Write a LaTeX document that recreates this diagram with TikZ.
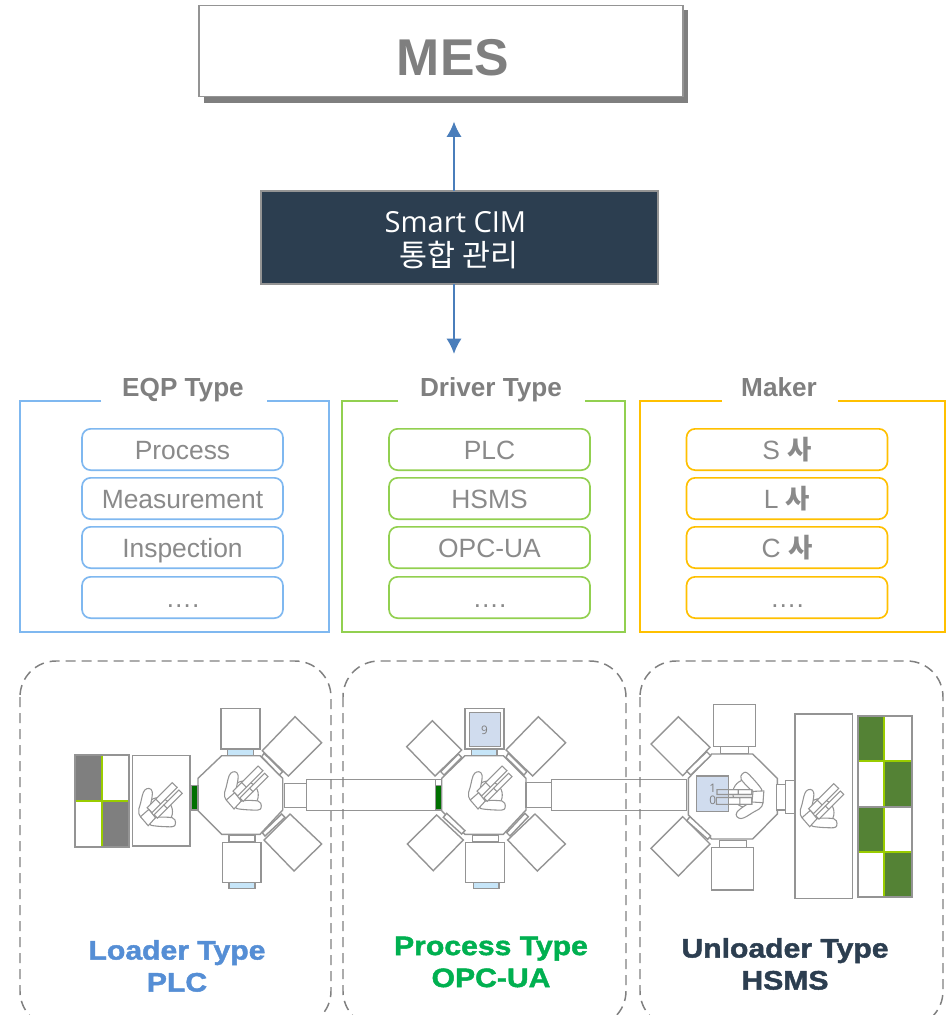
\documentclass[tikz,border=0pt]{standalone}
\usepackage{fontspec}
\setmainfont{Liberation Sans}
\newfontfamily\krfont{Noto Sans CJK KR}
\newfontfamily\uifont{Open Sans}
\newfontfamily\widefont[BoldFeatures={FakeStretch=1.13,FakeBold=1.7}]{Liberation Sans}
\definecolor{txtgray}{HTML}{8A8A8A}
\definecolor{titlegray}{HTML}{7F7F7F}
\definecolor{linegray}{HTML}{949494}
\definecolor{dashgray}{HTML}{808080}
\definecolor{boxblue}{HTML}{7FB8F0}
\definecolor{boxgreen}{HTML}{92D050}
\definecolor{boxyellow}{HTML}{FFC000}
\definecolor{navy}{HTML}{2C3E50}
\definecolor{arrowblue}{HTML}{4A7EBB}
\definecolor{labelblue}{HTML}{558ED5}
\definecolor{waferblue}{HTML}{D0DCEE}
\definecolor{doorblue}{HTML}{C6E5F8}
\definecolor{doorgreen}{HTML}{007000}
\definecolor{lime}{HTML}{99CC00}
\definecolor{cellgreen}{HTML}{548235}
\definecolor{cellgray}{HTML}{7F7F7F}
\definecolor{procgreen}{HTML}{00B050}
\usetikzlibrary{arrows.meta}
\tikzset{
  eq/.style={draw=linegray,fill=white,line width=1.05pt},
  door/.style={draw=linegray,fill=doorblue,line width=1.05pt},
  item/.style={rounded corners=6.5pt,line width=1.25pt,minimum width=150.75pt,minimum height=31pt,inner sep=0pt,text=txtgray,text height=15pt,text depth=0pt,font=\fontsize{19.8pt}{22pt}\selectfont},
  grouptitle/.style={anchor=base,font=\fontsize{19.6pt}{22pt}\selectfont\bfseries,text=titlegray,inner sep=0pt},
  grp/.style={line width=1.25pt},
  zone/.style={draw=dashgray,dash pattern=on 7.5pt off 4.5pt,line width=1.1pt,rounded corners=27pt},
  typelabel/.style={align=center,inner sep=0pt,font=\widefont\bfseries\fontsize{20pt}{24pt}\selectfont},
  flow/.style={draw=arrowblue,line width=1.7pt,-{Latex[length=11.5pt,width=11.5pt]}},
  digit/.style={text=cellgray,inner sep=0pt,font=\uifont\fontsize{8.8pt}{10pt}\selectfont}
}
\newcommand{\armsat}[3]{%
\begin{scope}[shift={(#1,#2)},rotate=#3,draw=linegray,line width=.8pt]
  \draw (-11.3,-4) -- (13.7,-29) -- (18.7,-24.3) -- (-6.5,.9) -- cycle;
  \draw (-4.4,3) -- (20.3,-21.7) -- (23.7,-18.3) -- (-1,6.4) -- cycle;
\end{scope}}
\newcommand{\robotat}[3]{%
\begin{scope}[shift={(#1,#2)},rotate=#3,draw=linegray,line width=.8pt]
  \draw (0,0) circle[radius=14];
  \draw[fill=white] plot[smooth cycle,tension=.7] coordinates {(-13.7,-21.7) (-6.3,-20) (-9.7,0) (-13,8.3) (-19.7,1.7) (-18,-8.3)};
  \draw[fill=white] plot[smooth cycle,tension=.5] coordinates {(-8,13.3) (13.7,15) (17,10.7) (13.7,6) (-3,6)};
  \draw[fill=white] (-11.3,-4) -- (13.7,-29) -- (18.7,-24.3) -- (-6.5,.9) -- cycle;
  \draw[fill=white] (-4.4,3) -- (20.3,-21.7) -- (23.7,-18.3) -- (-1,6.4) -- cycle;
  \draw (-2.8,-12.5) -- (2,-7.8) (5,-7) -- (9,-3);
  \draw[fill=white] (-18,5) -- (-9.7,-2.3) -- (-3,6) -- (-10.3,14) -- cycle;
\end{scope}}
\begin{document}
\begin{tikzpicture}[x=.75pt,y=-.75pt]
\clip (0,0) rectangle (948,1015);
\fill[white] (0,0) rectangle (948,1015);

% MES
\fill[cellgray] (204,10) rectangle (687.5,102.5);
\node[draw=linegray,fill=white,line width=1.3pt,minimum width=363pt,minimum height=68.25pt,inner sep=0pt] (mes) at (441,51) {};
\node[anchor=base,text=cellgray,font=\fontsize{38.8pt}{40pt}\selectfont\bfseries,inner sep=0pt] (mestext) at (453,75) {MES};

% CIM
\node[draw=linegray,fill=navy,line width=1pt,minimum width=297.75pt,minimum height=69.75pt,inner sep=0pt] (cim) at (459.5,237.5) {};
\node[anchor=base,text=white,inner sep=0pt,font=\uifont\fontsize{21.8pt}{25pt}\selectfont] (cimtext1) at (455.5,232) {Smart CIM};
\node[anchor=base,text=white,inner sep=0pt,font=\krfont\fontsize{22.8pt}{25pt}\selectfont] (cimtext2) at (459,266) {통합 관리};
\coordinate (upend) at (454,121.5);
\coordinate (downend) at (454,354);
\coordinate (cimtop) at (454,191);
\coordinate (cimbot) at (454,284);
\draw[flow] (cimtop) -- (upend);
\draw[flow] (cimbot) -- (downend);

% groups
\draw[grp,boxblue] (101,401) -- (20,401) -- (20,632) -- (329,632) -- (329,401) -- (267,401);
\draw[grp,boxgreen] (398,401) -- (342,401) -- (342,632) -- (625,632) -- (625,401) -- (585,401);
\draw[grp,boxyellow] (722,401) -- (640,401) -- (640,632) -- (945,632) -- (945,401) -- (838,401);
\node[grouptitle] (t1) at (183,396) {EQP Type};
\node[grouptitle] (t2) at (491,396) {Driver Type};
\node[grouptitle] (t3) at (779,396) {Maker};

\node[item,draw=boxblue] (a1) at (182.5,449.5) {Process};
\node[item,draw=boxblue] (a2) at (182.5,498.5) {Measurement};
\node[item,draw=boxblue] (a3) at (182.5,547.5) {Inspection};
\node[item,draw=boxblue] (a4) at (182.5,597.5) {….};
\node[item,draw=boxgreen] (b1) at (489.5,449.5) {PLC};
\node[item,draw=boxgreen] (b2) at (489.5,498.5) {HSMS};
\node[item,draw=boxgreen] (b3) at (489.5,547.5) {OPC-UA};
\node[item,draw=boxgreen] (b4) at (489.5,597.5) {….};
\node[item,draw=boxyellow] (c1) at (787,449.5) {S {\krfont\bfseries 사}};
\node[item,draw=boxyellow] (c2) at (787,498.5) {L {\krfont\bfseries 사}};
\node[item,draw=boxyellow] (c3) at (787,547.5) {C {\krfont\bfseries 사}};
\node[item,draw=boxyellow] (c4) at (787,597.5) {….};

% transfer modules
\draw[eq] (306.7,779.3) rectangle (435.7,810.3);
\draw[eq] (551.3,779.3) rectangle (686.7,810.3);

% Loader
\fill[cellgray] (75,755) rectangle (102.3,800.7);
\fill[cellgray] (102.3,800.7) rectangle (129.3,846.7);
\draw[lime,line width=1.6pt] (102.3,755) -- (102.3,846.7) (75,800.7) -- (129.3,800.7);
\draw[linegray,line width=1.5pt] (75,755) rectangle (129.3,846.7);
\draw[eq] (132.7,755.7) rectangle (190,846);
\draw[eq] (221.7,755.7) -- (260,755.7) -- (282.7,778.3) -- (282.7,810) -- (260,834.3) -- (221.7,834.3) -- (198,810.7) -- (198,778.3) -- cycle;
\draw[draw=linegray,fill=doorgreen,line width=1pt] (191.7,785.7) rectangle (198,810);
\draw[eq] (221,708.3) rectangle (260,749);
\draw[door] (227.3,749) rectangle (253.3,755.7);
\draw[eq] (295,716.7) -- (321.7,742.7) -- (288.3,776) -- (262.3,750.7) -- cycle;
\draw[eq] (264,753.3) -- (282.7,771.7) -- (279.3,775) -- (261.7,756.7) -- cycle;
\draw[eq] (290,814) -- (321.7,844) -- (294,871) -- (264,840) -- cycle;
\draw[eq] (281.7,814) -- (285,817.3) -- (265,836) -- (262.3,832.7) -- cycle;
\draw[eq] (229,835) rectangle (255,841.7);
\draw[eq] (222.3,842.3) rectangle (261,882.3);
\draw[door] (229,882.3) rectangle (255,888.3);
\draw[eq] (284.3,783.3) rectangle (306.7,807.3);
\robotat{158.5}{811.7}{0}
\robotat{244.3}{795}{0}

% Process
\draw[eq] (465,755.7) -- (503.3,755.7) -- (526,778.3) -- (526,810) -- (503.3,834.3) -- (465,834.3) -- (441.7,810.7) -- (441.7,778.3) -- cycle;
\draw[eq] (435.7,779.3) rectangle (441.7,785.7);
\draw[draw=linegray,fill=doorgreen,line width=1pt] (435.7,785.7) rectangle (441.7,810);
\draw[eq,line width=1.2pt] (465,708.3) rectangle (504,749);
\draw[draw=linegray,fill=waferblue,line width=1pt] (469.3,712.7) rectangle (500.3,746.7);
\node[digit] (nine) at (484.5,730) {9};
\draw[door] (471.7,749) rectangle (497,755.7);
\draw[eq] (538.3,716.7) -- (565.7,742.7) -- (532.7,776) -- (506,750) -- cycle;
\draw[eq] (508.3,753.3) -- (526.7,771.7) -- (524,775) -- (506,757.3) -- cycle;
\draw[eq] (432.3,720.7) -- (461.7,750) -- (435,776) -- (406.7,746.7) -- cycle;
\draw[eq] (458.3,754) -- (461.7,757.3) -- (444,775) -- (440.7,771.7) -- cycle;
\draw[eq] (436.7,815) -- (463.3,840) -- (433.3,870.7) -- (407.3,844) -- cycle;
\draw[eq] (446.7,813.3) -- (465,830.7) -- (461.7,834) -- (443.3,817.3) -- cycle;
\draw[eq] (535,814) -- (565.3,844) -- (537.3,871) -- (507.7,840) -- cycle;
\draw[eq] (525,813.3) -- (528.3,816.7) -- (510,836) -- (506.7,832.7) -- cycle;
\draw[eq] (472.7,835) rectangle (498.7,841.7);
\draw[eq] (465.7,842.3) rectangle (504.7,882.3);
\draw[door] (473.3,882.3) rectangle (499,888.3);
\draw[eq] (526,782.7) rectangle (551.3,807.3);
\robotat{488.3}{795}{0}

% Unloader
\draw[eq] (711.7,754) -- (752.7,754) -- (777.3,778.3) -- (777.3,814) -- (752.7,839) -- (711.7,839) -- (688.3,815) -- (688.3,778.3) -- cycle;
\draw[eq] (713.7,704.3) rectangle (755.7,746.7);
\draw[eq] (720.7,746.7) rectangle (748.3,753.3);
\draw[eq] (719.3,840.7) rectangle (746.7,847.3);
\draw[eq] (711.7,847.3) rectangle (753.3,890);
\draw[eq] (678.3,716.7) -- (710,747.3) -- (682.7,775.7) -- (651,744) -- cycle;
\draw[eq] (706.7,751.7) -- (710.7,755.7) -- (690.7,775) -- (686.7,771) -- cycle;
\draw[eq] (682.7,816.7) -- (710,844) -- (678.3,876) -- (651,848.3) -- cycle;
\draw[eq] (690,816.7) -- (710.7,836) -- (707.7,839.3) -- (686.7,820.7) -- cycle;
\robotat{746.7}{793.5}{135}
\draw[draw=linegray,fill=waferblue,line width=1pt] (696.7,776) rectangle (728.3,811.7);
\armsat{746.7}{793.5}{135}
\node[digit] (one) at (712.7,788.3) {1};
\node[digit] (zero) at (712.7,800.7) {0};
\draw[eq] (776.7,784.3) rectangle (785.3,810);
\draw[eq] (785.3,780.7) rectangle (795,813.3);
\draw[eq] (795,714) rectangle (852.3,898.7);
\robotat{820}{812.7}{0}
\fill[cellgreen] (857.7,716) rectangle (884.3,761);
\fill[cellgreen] (884.3,761) rectangle (911.7,806.7);
\fill[cellgreen] (857.7,806.7) rectangle (884.3,851.7);
\fill[cellgreen] (884.3,851.7) rectangle (911.7,897.3);
\draw[lime,line width=1.6pt] (884.3,716) -- (884.3,897.3) (857.7,761) -- (911.7,761) (857.7,851.7) -- (911.7,851.7);
\draw[linegray,line width=1.5pt] (857.7,806.7) -- (911.7,806.7);
\draw[linegray,line width=1.5pt] (857.7,716) rectangle (911.7,897.3);

% zones
\draw[zone] (20,661) rectangle (331,1027);
\draw[zone] (343,661) rectangle (626,1027);
\draw[zone] (640,661) rectangle (943,1027);

\node[typelabel,text=labelblue] (l1) at (177,966) {Loader Type\\PLC};
\node[typelabel,text=procgreen] (l2) at (491,962) {Process Type\\OPC-UA};
\node[typelabel,text=navy] (l3) at (785,964) {Unloader Type\\HSMS};
\end{tikzpicture}
\end{document}
